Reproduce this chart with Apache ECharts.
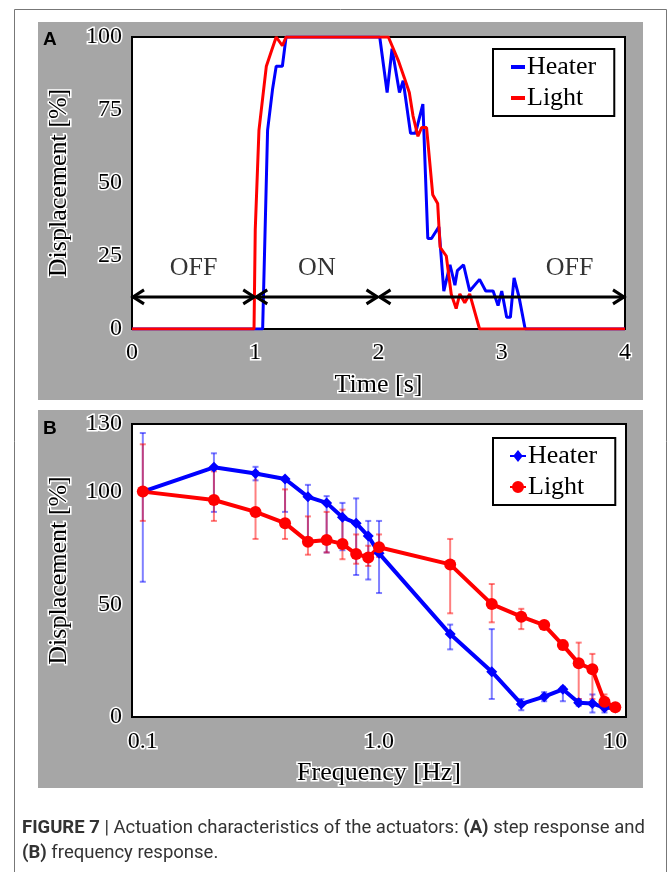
<!DOCTYPE html>
<html>
<head>
<meta charset="utf-8">
<script src="https://cdn.jsdelivr.net/npm/echarts@6/dist/echarts.min.js"></script>
<style>
  html, body { margin: 0; padding: 0; background: #fff; }
  #chart { width: 669px; height: 872px; }
</style>
</head>
<body>
<div id="chart"></div>
<script>
// ---- 图A：阶跃响应 [时间 s, 位移 %] ----
const heaterStep = [
  [0, 0], [1.06, 0], [1.08, 34], [1.10, 68], [1.14, 82], [1.17, 90], [1.22, 90], [1.25, 100],
  [2.01, 100], [2.07, 81], [2.11, 96], [2.17, 81], [2.20, 85], [2.26, 67], [2.30, 67], [2.36, 77],
  [2.40, 31], [2.43, 31], [2.49, 35], [2.53, 13], [2.58, 22], [2.62, 15], [2.64, 20], [2.69, 22],
  [2.74, 13], [2.82, 17], [2.87, 13], [2.93, 13], [2.97, 8], [3.00, 13], [3.04, 4], [3.07, 4],
  [3.10, 17.5], [3.14, 11], [3.19, 0], [4, 0]
]
const lightStep = [
  [0, 0], [0.99, 0], [1.00, 34], [1.03, 68], [1.09, 90], [1.13, 95], [1.17, 100], [1.22, 97],
  [1.25, 100], [2.08, 100], [2.16, 92], [2.21, 86], [2.25, 81], [2.28, 73], [2.32, 66], [2.35, 69],
  [2.39, 69], [2.44, 46], [2.48, 43], [2.50, 28], [2.55, 25], [2.59, 12], [2.63, 7], [2.66, 12],
  [2.70, 9], [2.74, 12], [2.82, 0], [4, 0]
]
// 开/关区间（箭头）
const switchSpans = [[0, 1], [1, 2], [2, 4]]
const switchLevel = 11
const switchLabels = ['OFF', 'ON', 'OFF']
const switchLabelX = [0.5, 1.5, 3.55]
const switchLabelY = 21

// ---- 图B：频率响应 ----
const freqs = [0.1, 0.2, 0.3, 0.4, 0.5, 0.6, 0.7, 0.8, 0.9, 1, 2, 3, 4, 5, 6, 7, 8, 9, 10]
const heaterAmp = [100, 110.8, 108, 105.6, 97.7, 95, 88.6, 86, 80.3, 72.6, 36.8, 20.1, 5.8, 9, 12.3, 6.3, 6, 4.1, 4]
const heaterHigh = [126, 117, 111, 106, 103, 98, 95, 97, 87, 87, 41, 39, 8, 11, 13.4, 8, 10, 6, 5]
const heaterLow = [60, 91, 105, 91, 78, 73, 74, 63, 61, 55, 30, 8, 3, 7, 7, 5, 2, 2, 3]
const lightAmp = [100, 96.3, 91, 86, 77.8, 78.5, 76.8, 72.3, 70.8, 75.3, 67.7, 50.1, 44.5, 40.8, 31.9, 23.8, 21.2, 6.8, 4.3]
const lightHigh = [121, 109, 109, 101, 89, 91, 92, 81, 76, 81, 79, 59, 48, 42, 34, 33, 28, 10, 5]
const lightLow = [87, 87, 79, 79, 72, 73, 70, 68, 67, 71, 46, 42, 39, 40, 30, 8, 8, 3, 3]
const freqTickText = { '-1': '0.1', '0': '1.0', '1': '10' }
const ampTicks = [0, 50, 100, 130]

const SERIF = '"Liberation Serif", "DejaVu Serif", serif'
const SANS = 'Roboto, "Liberation Sans", sans-serif'
const BLUE = '#0000ff'
const RED = '#ff0000'

// 白色描边的刻度文字
const outlined = (size) => ({
  fontFamily: SERIF, fontSize: size, color: '#000',
  textBorderColor: '#fff', textBorderWidth: 3
})

// 误差棒
function errorBar(color) {
  return function (params, api) {
    const top = api.coord([api.value(0), api.value(2)])
    const bot = api.coord([api.value(0), api.value(1)])
    const style = { stroke: color, lineWidth: 2 }
    return {
      type: 'group',
      children: [
        { type: 'line', shape: { x1: top[0], y1: top[1], x2: bot[0], y2: bot[1] }, style },
        { type: 'line', shape: { x1: top[0] - 3, y1: top[1], x2: top[0] + 3, y2: top[1] }, style },
        { type: 'line', shape: { x1: bot[0] - 3, y1: bot[1], x2: bot[0] + 3, y2: bot[1] }, style }
      ]
    }
  }
}

const myChart = echarts.init(document.getElementById('chart'), null, { renderer: 'canvas' })

const option = {
  backgroundColor: '#fff',
  animation: false,
  graphic: [
    // 外框
    { type: 'rect', z: -20, shape: { x: 14.5, y: 9.5, width: 652, height: 900 },
      style: { fill: '#fff', stroke: '#777', lineWidth: 1 } },
    // 灰色底板
    { type: 'rect', z: -10, shape: { x: 38, y: 22, width: 605, height: 378 }, style: { fill: '#a6a6a6' } },
    { type: 'rect', z: -10, shape: { x: 38, y: 410, width: 605, height: 378 }, style: { fill: '#a6a6a6' } },
    { type: 'text', left: 43, top: 30, style: { text: 'A', font: 'bold 19px "Liberation Sans", Arial, sans-serif', fill: '#000' } },
    { type: 'text', left: 43, top: 419, style: { text: 'B', font: 'bold 19px "Liberation Sans", Arial, sans-serif', fill: '#000' } },
    // 图注
    { type: 'text', left: 22, top: 816,
      style: {
        text: '{b|FIGURE 7} | Actuation characteristics of the actuators: {b|(A)} step response and\n{b|(B)} frequency response.',
        fontFamily: SANS, fontSize: 18.5, fill: '#333', lineHeight: 25,
        rich: { b: { fontFamily: SANS, fontSize: 18.5, fontWeight: 'bold', fill: '#333' } }
      } }
  ],
  legend: [{
    left: 493, top: 49, orient: 'vertical',
    data: [{ name: 'Heater', icon: 'rect' }, { name: 'Light', icon: 'rect' }],
    itemWidth: 14, itemHeight: 4, itemGap: 5,
    padding: [5, 18, 5, 18],
    backgroundColor: '#fff', borderColor: '#000', borderWidth: 2, borderRadius: 0,
    itemStyle: { borderWidth: 0 },
    textStyle: { fontFamily: SERIF, fontSize: 26, color: '#000', padding: [0, 0, 0, -3] },
    selectedMode: false
  }, {
    left: 493, top: 438, orient: 'vertical',
    data: [
      { name: 'Heater', icon: 'path://M0,5 L4,5 L8,0 L12,5 L16,5 L16,7 L12,7 L8,12 L4,7 L0,7 Z' },
      { name: 'Light', icon: 'path://M0,5 L16,5 L16,7 L0,7 Z M14,6 A6,6 0 1 1 2,6 A6,6 0 1 1 14,6 Z' }
    ],
    itemWidth: 16, itemHeight: 12, itemGap: 5,
    padding: [5, 18, 5, 17],
    backgroundColor: '#fff', borderColor: '#000', borderWidth: 2, borderRadius: 0,
    itemStyle: { borderWidth: 0 },
    textStyle: { fontFamily: SERIF, fontSize: 26, color: '#000', padding: [0, 0, 0, -3] },
    selectedMode: false
  }],
  grid: [
    { left: 132, top: 37, width: 493, height: 292, show: true, backgroundColor: '#fff', borderColor: '#000', borderWidth: 2 },
    { left: 132, top: 424, width: 494, height: 293, show: true, backgroundColor: '#fff', borderColor: '#000', borderWidth: 2 }
  ],
  xAxis: [{
    gridIndex: 0, type: 'value', min: 0, max: 4, interval: 1,
    name: 'Time [s]', nameLocation: 'middle', nameGap: 43, nameTextStyle: outlined(26),
    axisLine: { show: false }, axisTick: { show: false }, splitLine: { show: false },
    axisLabel: Object.assign({ margin: 12 }, outlined(24))
  }, {
    gridIndex: 1, type: 'log', logBase: 10, min: 0.09, max: 11.1,
    name: 'Frequency [Hz]', nameLocation: 'middle', nameGap: 43, nameTextStyle: outlined(26),
    axisLine: { show: false }, axisTick: { show: false }, splitLine: { show: false }, minorTick: { show: false },
    axisLabel: Object.assign({
      margin: 13, showMinLabel: false, showMaxLabel: false,
      formatter: v => freqTickText[String(Math.round(Math.log10(v)))] || ''
    }, outlined(24))
  }],
  yAxis: [{
    gridIndex: 0, type: 'value', min: 0, max: 100, interval: 25,
    name: 'Displacement [%]', nameLocation: 'middle', nameGap: 58, nameTextStyle: outlined(26),
    axisLine: { show: false }, axisTick: { show: false }, splitLine: { show: false },
    axisLabel: Object.assign({ margin: 10 }, outlined(24))
  }, {
    gridIndex: 1, type: 'value', min: 0, max: 130,
    name: 'Displacement [%]', nameLocation: 'middle', nameGap: 58, nameTextStyle: outlined(26),
    axisLine: { show: false }, axisTick: { show: false }, splitLine: { show: false },
    axisLabel: Object.assign({ margin: 10, customValues: ampTicks }, outlined(24))
  }],
  series: [
    // 图A
    { name: 'Heater', type: 'line', xAxisIndex: 0, yAxisIndex: 0, data: heaterStep,
      symbol: 'none', color: BLUE, lineStyle: { width: 3, color: BLUE }, z: 3 },
    { name: 'Light', type: 'line', xAxisIndex: 0, yAxisIndex: 0, data: lightStep,
      symbol: 'none', color: RED, lineStyle: { width: 3, color: RED }, z: 3 },
    // 开/关箭头
    { type: 'custom', xAxisIndex: 0, yAxisIndex: 0, z: 4, silent: true,
      data: switchSpans.map(s => [s[0], s[1], switchLevel]),
      renderItem: function (params, api) {
        const a = api.coord([api.value(0), api.value(2)])
        const b = api.coord([api.value(1), api.value(2)])
        const style = { stroke: '#000', lineWidth: 3, fill: null }
        return {
          type: 'group',
          children: [
            { type: 'line', shape: { x1: a[0] + 1, y1: a[1], x2: b[0] - 1, y2: b[1] }, style },
            { type: 'polyline', shape: { points: [[a[0] + 12, a[1] - 7], [a[0] + 1, a[1]], [a[0] + 12, a[1] + 7]] }, style },
            { type: 'polyline', shape: { points: [[b[0] - 12, b[1] - 7], [b[0] - 1, b[1]], [b[0] - 12, b[1] + 7]] }, style }
          ]
        }
      }
    },
    { type: 'scatter', xAxisIndex: 0, yAxisIndex: 0, symbolSize: 0, silent: true, z: 4,
      data: switchLabels.map((t, i) => ({ name: t, value: [switchLabelX[i], switchLabelY] })),
      label: { show: true, position: 'inside', formatter: '{b}', fontFamily: SERIF, fontSize: 26, color: '#000' }
    },
    // 图B 误差棒
    { type: 'custom', xAxisIndex: 1, yAxisIndex: 1, z: 2, silent: true,
      data: freqs.map((f, i) => [f, heaterLow[i], heaterHigh[i]]),
      renderItem: errorBar('rgba(0,0,255,0.5)') },
    { type: 'custom', xAxisIndex: 1, yAxisIndex: 1, z: 2, silent: true,
      data: freqs.map((f, i) => [f, lightLow[i], lightHigh[i]]),
      renderItem: errorBar('rgba(255,0,0,0.5)') },
    // 图B 曲线
    { name: 'Heater', type: 'line', xAxisIndex: 1, yAxisIndex: 1, z: 3,
      data: freqs.map((f, i) => [f, heaterAmp[i]]),
      symbol: 'diamond', symbolSize: 11, color: BLUE,
      itemStyle: { color: BLUE, borderWidth: 0 }, lineStyle: { width: 4, color: BLUE } },
    { name: 'Light', type: 'line', xAxisIndex: 1, yAxisIndex: 1, z: 3,
      data: freqs.map((f, i) => [f, lightAmp[i]]),
      symbol: 'circle', symbolSize: 12, color: RED,
      itemStyle: { color: RED, borderWidth: 0 }, lineStyle: { width: 4, color: RED } }
  ]
}

myChart.setOption(option)
window.onresize = function () {
  myChart.resize()
}
</script>
</body>
</html>
